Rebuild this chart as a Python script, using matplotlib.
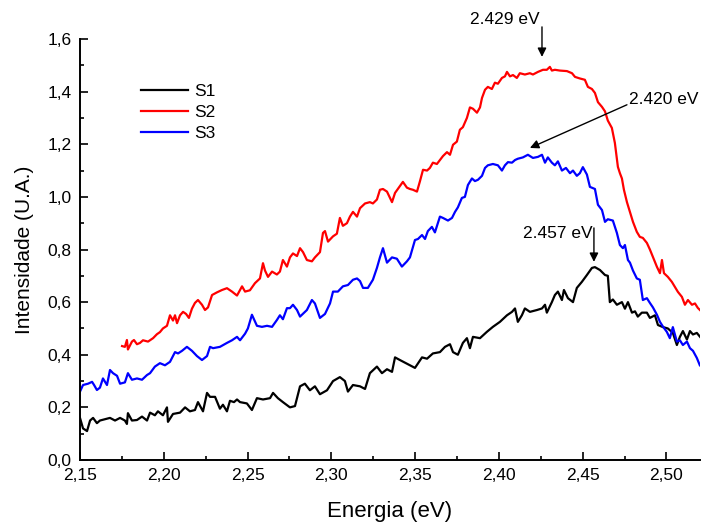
import matplotlib
matplotlib.use("Agg")
import matplotlib.pyplot as plt
from matplotlib.ticker import MultipleLocator, FuncFormatter

plt.rcParams["font.family"] = ["Liberation Sans", "DejaVu Sans"]

# S1 (black)
s1_energy = [2.1500, 2.1518, 2.1542, 2.1560, 2.1578, 2.1601, 2.1619, 2.1679, 2.1709, 2.1739,
             2.1768, 2.1780, 2.1786, 2.1810, 2.1840, 2.1870, 2.1900, 2.1918, 2.1947, 2.1965,
             2.1995, 2.2019, 2.2025, 2.2055, 2.2097, 2.2127, 2.2156, 2.2186, 2.2204, 2.2234,
             2.2258, 2.2276, 2.2306, 2.2335, 2.2353, 2.2377, 2.2395, 2.2419, 2.2437, 2.2455,
             2.2496, 2.2526, 2.2556, 2.2592, 2.2634, 2.2652, 2.2681, 2.2711, 2.2753, 2.2783,
             2.2813, 2.2842, 2.2872, 2.2902, 2.2932, 2.2974, 2.3010, 2.3051, 2.3081, 2.3099,
             2.3129, 2.3171, 2.3201, 2.3230, 2.3272, 2.3302, 2.3332, 2.3362, 2.3380, 2.3409,
             2.3499, 2.3541, 2.3571, 2.3606, 2.3648, 2.3678, 2.3708, 2.3726, 2.3755, 2.3785,
             2.3809, 2.3827, 2.3845, 2.3887, 2.3928, 2.3964, 2.4006, 2.4048, 2.4078, 2.4096,
             2.4113, 2.4137, 2.4155, 2.4185, 2.4227, 2.4257, 2.4275, 2.4286, 2.4316, 2.4334,
             2.4352, 2.4376, 2.4388, 2.4412, 2.4442, 2.4465, 2.4495, 2.4525, 2.4555, 2.4573,
             2.4603, 2.4633, 2.4650, 2.4662, 2.4680, 2.4704, 2.4734, 2.4752, 2.4770, 2.4794,
             2.4812, 2.4829, 2.4853, 2.4883, 2.4901, 2.4931, 2.4949, 2.4979, 2.5008, 2.5038,
             2.5062, 2.5080, 2.5098, 2.5122, 2.5140, 2.5158, 2.5181, 2.5211]
s1_intensity = [0.160, 0.120, 0.110, 0.150, 0.160, 0.140, 0.150, 0.160, 0.150, 0.160,
                0.150, 0.137, 0.178, 0.150, 0.152, 0.165, 0.150, 0.180, 0.170, 0.185,
                0.170, 0.200, 0.145, 0.175, 0.180, 0.200, 0.185, 0.190, 0.220, 0.185,
                0.255, 0.240, 0.240, 0.195, 0.210, 0.185, 0.225, 0.220, 0.230, 0.220,
                0.215, 0.190, 0.235, 0.230, 0.235, 0.255, 0.235, 0.220, 0.200, 0.205,
                0.280, 0.290, 0.265, 0.280, 0.250, 0.265, 0.300, 0.315, 0.300, 0.260,
                0.285, 0.280, 0.270, 0.330, 0.355, 0.330, 0.345, 0.335, 0.390, 0.380,
                0.350, 0.390, 0.385, 0.405, 0.410, 0.430, 0.440, 0.410, 0.400, 0.445,
                0.463, 0.425, 0.468, 0.463, 0.487, 0.506, 0.525, 0.550, 0.563, 0.576,
                0.525, 0.550, 0.576, 0.563, 0.570, 0.576, 0.590, 0.560, 0.600, 0.627,
                0.640, 0.608, 0.646, 0.615, 0.600, 0.654, 0.677, 0.703, 0.730, 0.733,
                0.722, 0.703, 0.700, 0.600, 0.610, 0.590, 0.600, 0.575, 0.600, 0.560,
                0.565, 0.545, 0.560, 0.560, 0.540, 0.550, 0.513, 0.505, 0.500, 0.483,
                0.437, 0.468, 0.490, 0.458, 0.490, 0.477, 0.483, 0.460]

# S2 (red)
s2_energy = [2.1751, 2.1768, 2.1780, 2.1786, 2.1810, 2.1822, 2.1840, 2.1858, 2.1876, 2.1906,
             2.1936, 2.1959, 2.1977, 2.1995, 2.2019, 2.2037, 2.2055, 2.2067, 2.2079, 2.2097,
             2.2115, 2.2133, 2.2150, 2.2168, 2.2186, 2.2204, 2.2228, 2.2246, 2.2264, 2.2288,
             2.2317, 2.2347, 2.2377, 2.2407, 2.2437, 2.2467, 2.2485, 2.2514, 2.2544, 2.2574,
             2.2592, 2.2604, 2.2622, 2.2646, 2.2675, 2.2693, 2.2711, 2.2735, 2.2753, 2.2771,
             2.2795, 2.2813, 2.2831, 2.2854, 2.2884, 2.2902, 2.2932, 2.2950, 2.2962, 2.2980,
             2.3010, 2.3033, 2.3051, 2.3069, 2.3093, 2.3111, 2.3129, 2.3153, 2.3171, 2.3201,
             2.3230, 2.3248, 2.3272, 2.3290, 2.3308, 2.3332, 2.3362, 2.3380, 2.3397, 2.3427,
             2.3451, 2.3469, 2.3487, 2.3511, 2.3529, 2.3547, 2.3571, 2.3588, 2.3606, 2.3630,
             2.3648, 2.3666, 2.3690, 2.3708, 2.3726, 2.3749, 2.3767, 2.3785, 2.3809, 2.3827,
             2.3845, 2.3869, 2.3887, 2.3899, 2.3917, 2.3934, 2.3958, 2.3976, 2.3994, 2.4018,
             2.4036, 2.4048, 2.4066, 2.4084, 2.4107, 2.4125, 2.4155, 2.4185, 2.4203, 2.4233,
             2.4263, 2.4286, 2.4304, 2.4316, 2.4334, 2.4364, 2.4406, 2.4436, 2.4454, 2.4483,
             2.4513, 2.4531, 2.4555, 2.4573, 2.4591, 2.4615, 2.4633, 2.4650, 2.4674, 2.4692,
             2.4710, 2.4722, 2.4734, 2.4746, 2.4764, 2.4782, 2.4800, 2.4823, 2.4841, 2.4859,
             2.4883, 2.4901, 2.4919, 2.4943, 2.4961, 2.4973, 2.4985, 2.5008, 2.5032, 2.5050,
             2.5068, 2.5092, 2.5110, 2.5128, 2.5152, 2.5170, 2.5187, 2.5211]
s2_intensity = [0.433, 0.430, 0.456, 0.420, 0.450, 0.456, 0.440, 0.445, 0.455, 0.450,
                0.463, 0.478, 0.486, 0.500, 0.510, 0.550, 0.530, 0.550, 0.520, 0.550,
                0.563, 0.555, 0.540, 0.575, 0.597, 0.608, 0.590, 0.570, 0.580, 0.627,
                0.637, 0.646, 0.653, 0.640, 0.625, 0.660, 0.640, 0.645, 0.672, 0.690,
                0.748, 0.720, 0.696, 0.716, 0.705, 0.716, 0.760, 0.735, 0.770, 0.785,
                0.775, 0.805, 0.790, 0.760, 0.755, 0.770, 0.790, 0.863, 0.870, 0.830,
                0.850, 0.860, 0.920, 0.890, 0.900, 0.925, 0.943, 0.925, 0.957, 0.975,
                0.980, 0.975, 0.990, 1.027, 1.030, 1.020, 0.980, 1.015, 1.030, 1.057,
                1.035, 1.030, 1.027, 1.020, 1.060, 1.103, 1.100, 1.110, 1.130, 1.125,
                1.140, 1.155, 1.170, 1.160, 1.198, 1.210, 1.255, 1.265, 1.300, 1.340,
                1.335, 1.320, 1.340, 1.376, 1.407, 1.418, 1.410, 1.434, 1.430, 1.452,
                1.458, 1.475, 1.458, 1.463, 1.452, 1.470, 1.465, 1.470, 1.465, 1.475,
                1.483, 1.483, 1.494, 1.480, 1.483, 1.480, 1.478, 1.470, 1.456, 1.450,
                1.445, 1.418, 1.410, 1.395, 1.360, 1.342, 1.325, 1.290, 1.262, 1.205,
                1.114, 1.090, 1.070, 1.027, 0.980, 0.943, 0.905, 0.867, 0.848, 0.844,
                0.825, 0.800, 0.772, 0.734, 0.710, 0.760, 0.710, 0.696, 0.677, 0.658,
                0.639, 0.620, 0.590, 0.608, 0.590, 0.595, 0.578, 0.563]

# S3 (blue)
s3_energy = [2.1500, 2.1518, 2.1548, 2.1572, 2.1584, 2.1601, 2.1619, 2.1637, 2.1661, 2.1679,
             2.1697, 2.1721, 2.1739, 2.1768, 2.1786, 2.1810, 2.1840, 2.1870, 2.1900, 2.1918,
             2.1947, 2.1977, 2.2007, 2.2037, 2.2067, 2.2085, 2.2109, 2.2138, 2.2168, 2.2198,
             2.2228, 2.2258, 2.2276, 2.2294, 2.2335, 2.2377, 2.2407, 2.2437, 2.2455, 2.2485,
             2.2502, 2.2526, 2.2556, 2.2586, 2.2616, 2.2646, 2.2675, 2.2693, 2.2711, 2.2735,
             2.2753, 2.2771, 2.2795, 2.2813, 2.2854, 2.2884, 2.2902, 2.2932, 2.2962, 2.2992,
             2.3010, 2.3039, 2.3069, 2.3099, 2.3129, 2.3153, 2.3171, 2.3189, 2.3218, 2.3248,
             2.3272, 2.3290, 2.3308, 2.3332, 2.3362, 2.3391, 2.3421, 2.3451, 2.3469, 2.3499,
             2.3517, 2.3541, 2.3559, 2.3576, 2.3600, 2.3618, 2.3648, 2.3666, 2.3696, 2.3720,
             2.3738, 2.3755, 2.3779, 2.3797, 2.3815, 2.3839, 2.3857, 2.3875, 2.3899, 2.3917,
             2.3934, 2.3964, 2.3994, 2.4018, 2.4036, 2.4054, 2.4078, 2.4096, 2.4113, 2.4143,
             2.4173, 2.4203, 2.4233, 2.4257, 2.4275, 2.4292, 2.4316, 2.4334, 2.4352, 2.4376,
             2.4400, 2.4424, 2.4442, 2.4465, 2.4483, 2.4501, 2.4525, 2.4543, 2.4573, 2.4591,
             2.4615, 2.4633, 2.4650, 2.4680, 2.4704, 2.4722, 2.4740, 2.4752, 2.4770, 2.4782,
             2.4800, 2.4823, 2.4841, 2.4859, 2.4883, 2.4901, 2.4919, 2.4943, 2.4961, 2.4979,
             2.5002, 2.5020, 2.5038, 2.5062, 2.5080, 2.5098, 2.5122, 2.5140, 2.5158, 2.5181,
             2.5199]
s3_intensity = [0.260, 0.285, 0.290, 0.297, 0.285, 0.266, 0.275, 0.310, 0.285, 0.342,
                0.330, 0.320, 0.290, 0.295, 0.330, 0.305, 0.310, 0.305, 0.323, 0.330,
                0.355, 0.368, 0.360, 0.373, 0.410, 0.405, 0.415, 0.430, 0.415, 0.395,
                0.380, 0.395, 0.430, 0.425, 0.430, 0.445, 0.455, 0.468, 0.455, 0.480,
                0.500, 0.552, 0.510, 0.506, 0.510, 0.506, 0.532, 0.550, 0.535, 0.577,
                0.577, 0.590, 0.570, 0.545, 0.570, 0.608, 0.595, 0.540, 0.555, 0.595,
                0.640, 0.640, 0.660, 0.665, 0.685, 0.690, 0.680, 0.654, 0.654, 0.685,
                0.730, 0.770, 0.805, 0.750, 0.770, 0.765, 0.735, 0.755, 0.770, 0.836,
                0.840, 0.855, 0.840, 0.870, 0.886, 0.865, 0.925, 0.920, 0.910, 0.920,
                0.943, 0.960, 0.996, 1.000, 1.045, 1.070, 1.060, 1.065, 1.080, 1.110,
                1.120, 1.125, 1.120, 1.100, 1.120, 1.132, 1.130, 1.140, 1.145, 1.150,
                1.160, 1.148, 1.152, 1.160, 1.130, 1.150, 1.130, 1.120, 1.135, 1.100,
                1.110, 1.090, 1.100, 1.080, 1.090, 1.113, 1.085, 1.038, 1.030, 0.970,
                0.950, 0.905, 0.915, 0.910, 0.863, 0.817, 0.805, 0.817, 0.760, 0.750,
                0.720, 0.690, 0.685, 0.608, 0.615, 0.597, 0.580, 0.552, 0.525, 0.507,
                0.487, 0.463, 0.505, 0.450, 0.455, 0.437, 0.450, 0.425, 0.415, 0.388,
                0.360]

series_labels = ["S1", "S2", "S3"]
peak_labels = ["2.429 eV", "2.420 eV", "2.457 eV"]


def comma(v, pos):
    return f"{v:.1f}".replace(".", ",")


def comma2(v, pos):
    return f"{v:.2f}".replace(".", ",")


fig = plt.figure(figsize=(7.04, 5.23), dpi=100)
ax = fig.add_axes([80 / 704, 63 / 523, 620 / 704, 421 / 523])

ax.plot(s1_energy, s1_intensity, color="black", lw=1.6, label=series_labels[0])
ax.plot(s2_energy, s2_intensity, color="#ff0000", lw=1.6, label=series_labels[1])
ax.plot(s3_energy, s3_intensity, color="#0000ff", lw=1.6, label=series_labels[2])

ax.set_xlim(2.15, 2.52)
ax.set_ylim(0.0, 1.6)
ax.xaxis.set_major_locator(MultipleLocator(0.05))
ax.xaxis.set_minor_locator(MultipleLocator(0.025))
ax.yaxis.set_major_locator(MultipleLocator(0.2))
ax.yaxis.set_minor_locator(MultipleLocator(0.1))
ax.xaxis.set_major_formatter(FuncFormatter(comma2))
ax.yaxis.set_major_formatter(FuncFormatter(comma))

for side in ["top", "right"]:
    ax.spines[side].set_visible(False)
for side in ["left", "bottom"]:
    ax.spines[side].set_linewidth(1.4)

ax.tick_params(which="major", direction="in", length=6, width=1.2, labelsize=12.5, pad=6)
ax.tick_params(which="minor", direction="in", length=3, width=1.2)

ax.set_xlabel("Energia (eV)", fontsize=16, labelpad=13)
ax.set_ylabel("Intensidade (U.A.)", fontsize=15, labelpad=10)

leg = ax.legend(loc="upper left", bbox_to_anchor=(0.085, 0.915), frameon=False,
                fontsize=12.5, handlelength=2.7, handletextpad=0.35, labelspacing=0.35,
                borderpad=0)

arrow = dict(arrowstyle="-|>", color="black", lw=1.0, mutation_scale=13,
             shrinkA=0, shrinkB=0)

# 2.429 eV on S2
ax.annotate("", xy=(2.4257, 1.532), xytext=(2.4257, 1.646), arrowprops=arrow,
            annotation_clip=False)
ax.text(2.4245, 1.673, peak_labels[0], ha="right", va="center", fontsize=12.5, clip_on=False)

# 2.420 eV on S3
ax.annotate("", xy=(2.4185, 1.186), xytext=(2.4764, 1.35), arrowprops=arrow)
ax.text(2.4775, 1.369, peak_labels[1], ha="left", va="center", fontsize=12.5, clip_on=False)

# 2.457 eV on S1
ax.annotate("", xy=(2.4567, 0.753), xytext=(2.4567, 0.882), arrowprops=arrow)
ax.text(2.4558, 0.859, peak_labels[2], ha="right", va="center", fontsize=12.5)

fig.savefig("out.png", dpi=100)
